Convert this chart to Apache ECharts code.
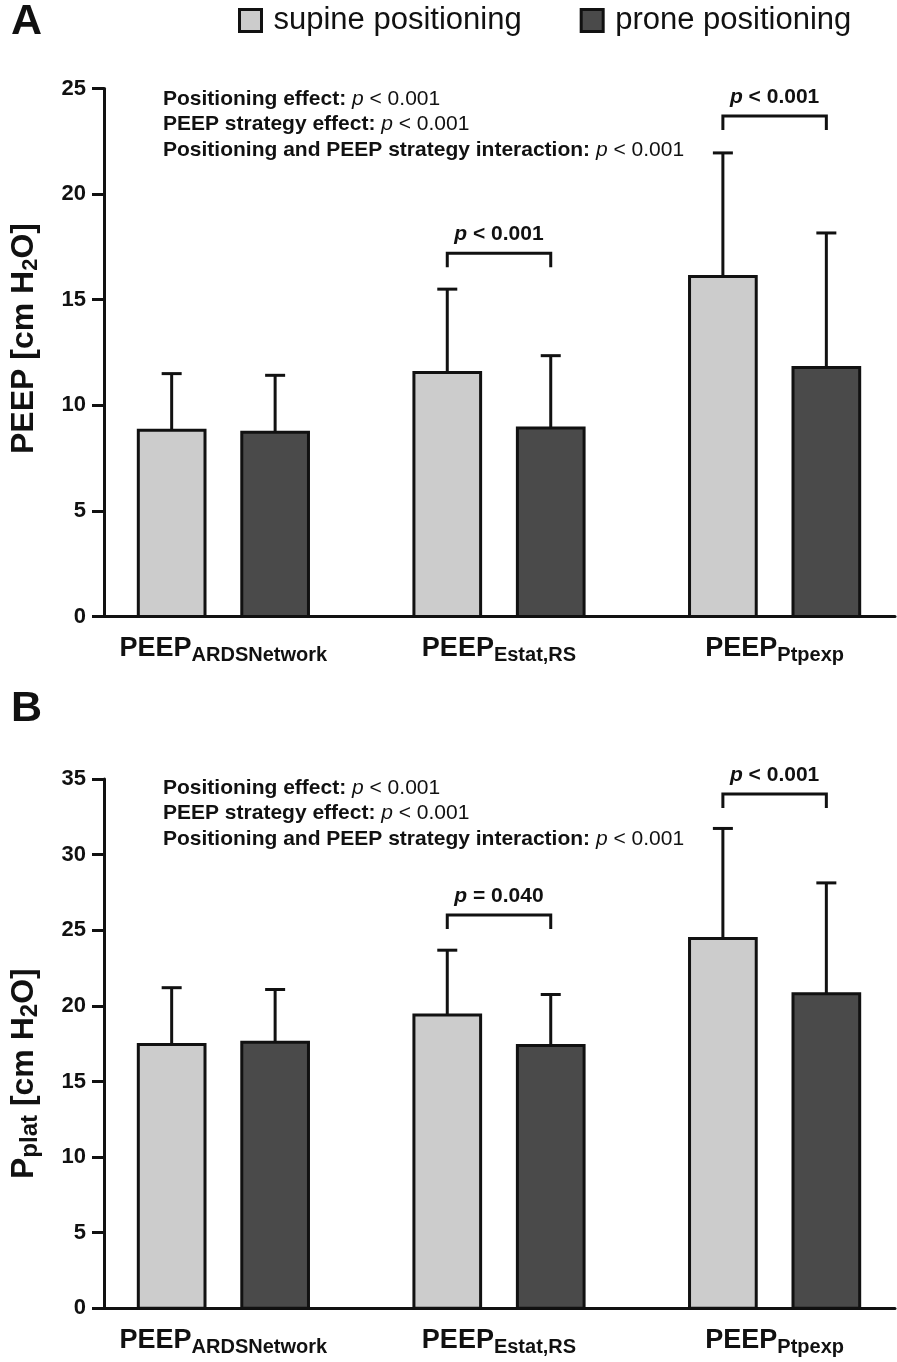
<!DOCTYPE html>
<html><head><meta charset="utf-8">
<script src="https://cdn.jsdelivr.net/npm/echarts@6/dist/echarts.min.js"></script>
<style>html,body{margin:0;padding:0;background:#fff}#c{width:897px;height:1362px}</style>
</head><body><div id="c"></div>
<script>
// ---------- data ----------
const categoryMain = ['PEEP', 'PEEP', 'PEEP'];
const categorySub = ['ARDSNetwork', 'Estat,RS', 'Ptpexp'];
const seriesNames = ['supine positioning', 'prone positioning'];

// Panel A: PEEP [cm H2O]
const peepSupineMean = [8.82, 11.55, 16.10];
const peepSupineSD   = [2.68, 3.95, 5.85];
const peepProneMean  = [8.72, 8.93, 11.79];
const peepProneSD    = [2.70, 3.42, 6.37];

// Panel B: Pplat [cm H2O]
const pplatSupineMean = [17.45, 19.40, 24.45];
const pplatSupineSD   = [3.75, 4.28, 7.28];
const pplatProneMean  = [17.60, 17.38, 20.80];
const pplatProneSD    = [3.48, 3.37, 7.33];

// pairwise comparison brackets
const bracketCatA   = [1, 2];
const bracketLevelA = [17.2, 23.7];
const bracketTextA  = ['< 0.001', '< 0.001'];
const bracketCatB   = [1, 2];
const bracketLevelB = [26.0, 34.0];
const bracketTextB  = ['= 0.040', '< 0.001'];

// overall statistics
const statLabels = ['Positioning effect:', 'PEEP strategy effect:', 'Positioning and PEEP strategy interaction:'];
const statValuesA = ['< 0.001', '< 0.001', '< 0.001'];
const statValuesB = ['< 0.001', '< 0.001', '< 0.001'];

// axis ticks
const yMaxA = 25, yMaxB = 35, yStep = 5;

// ---------- rendering ----------
const FONT = '"Liberation Sans", Arial, Helvetica, sans-serif';
const INK = '#111';
const BAR_W = 0.242;     // in category units
const OFFSET = 0.1877;   // half distance between pair centers
const X_MIN = -0.4332, X_MAX = 2.4368;

function zip(m, s) { return m.map((v, i) => [i, v, s[i]]); }

function barRender(offset) {
  return function (params, api) {
    const xc = api.value(0) + offset, m = api.value(1), sd = api.value(2);
    const w = api.size([BAR_W, 0])[0];
    const top = api.coord([xc, m]);
    const base = api.coord([xc, 0]);
    const et = api.coord([xc, m + sd]);
    return {
      type: 'group',
      children: [
        { type: 'line', shape: { x1: top[0], y1: top[1], x2: et[0], y2: et[1] }, style: { stroke: INK, lineWidth: 3 } },
        { type: 'line', shape: { x1: et[0] - 10, y1: et[1], x2: et[0] + 10, y2: et[1] }, style: { stroke: INK, lineWidth: 3 } },
        { type: 'rect', shape: { x: top[0] - w / 2, y: top[1], width: w, height: base[1] - top[1] },
          style: { fill: api.visual('color'), stroke: INK, lineWidth: 3 } }
      ]
    };
  };
}

function bracketRender(texts) {
  return function (params, api) {
    const c = api.value(0), lvl = api.value(1);
    const a = api.coord([c - OFFSET, lvl]);
    const b = api.coord([c + OFFSET, lvl]);
    return {
      type: 'group',
      children: [
        { type: 'polyline', shape: { points: [[a[0], a[1] + 14], a, b, [b[0], b[1] + 14]] },
          style: { stroke: INK, lineWidth: 3, fill: null } },
        { type: 'text', x: (a[0] + b[0]) / 2, y: a[1] - 19,
          style: { text: '{i|p}{n| ' + texts[params.dataIndex] + '}', align: 'center', verticalAlign: 'middle',
            rich: {
              i: { fontFamily: FONT, fontSize: 21, fontWeight: 'bold', fontStyle: 'italic', fill: INK },
              n: { fontFamily: FONT, fontSize: 21, fontWeight: 'bold', fill: INK }
            } } }
      ]
    };
  };
}

function catLabel(v) {
  const i = Math.round(v);
  return '{a|' + categoryMain[i] + '}{b|' + categorySub[i] + '}';
}

function statText(vals) {
  return statLabels.map((l, i) => '{b|' + l + '}{i| p}{n| ' + vals[i] + '}').join('\n');
}

const richStat = {
  b: { fontFamily: FONT, fontSize: 21, fontWeight: 'bold', color: INK, lineHeight: 25.5 },
  i: { fontFamily: FONT, fontSize: 21, fontWeight: 'normal', fontStyle: 'italic', color: INK, lineHeight: 25.5 },
  n: { fontFamily: FONT, fontSize: 21, fontWeight: 'normal', color: INK, lineHeight: 25.5 }
};

function xAxisDef(gridIndex) {
  return {
    type: 'value', gridIndex, min: X_MIN, max: X_MAX,
    axisLine: { show: true, onZero: true, lineStyle: { color: INK, width: 3 } },
    axisTick: { show: false },
    splitLine: { show: false },
    axisLabel: {
      customValues: [0, 1, 2], margin: 15, formatter: catLabel,
      rich: {
        a: { fontFamily: FONT, fontSize: 27, fontWeight: 'bold', color: INK, lineHeight: 34 },
        b: { fontFamily: FONT, fontSize: 20, fontWeight: 'bold', color: INK, lineHeight: 12, verticalAlign: 'bottom' }
      }
    }
  };
}

function yAxisDef(gridIndex, max, name, pad, subSize) {
  return {
    type: 'value', gridIndex, min: 0, max, interval: yStep,
    name, nameLocation: 'middle', nameRotate: 90, nameGap: 62,
    nameTextStyle: {
      padding: pad,
      rich: {
        a: { fontFamily: FONT, fontSize: 32, fontWeight: 'bold', color: INK, lineHeight: 36 },
        s: { fontFamily: FONT, fontSize: subSize, fontWeight: 'bold', color: INK, lineHeight: 16, verticalAlign: 'bottom' }
      }
    },
    axisLine: { show: true, onZero: false, lineStyle: { color: INK, width: 3 } },
    axisTick: { show: true, inside: false, length: 12, lineStyle: { color: INK, width: 3 } },
    splitLine: { show: false },
    axisLabel: { margin: 18, fontFamily: FONT, fontSize: 22, fontWeight: 'bold', color: INK }
  };
}

const supineColor = '#cccccc', proneColor = '#4a4a4a';

const option = {
  animation: false,
  backgroundColor: '#fff',
  title: [
    { text: 'A', left: 6, top: -4, textStyle: { fontFamily: FONT, fontSize: 43, fontWeight: 'bold', color: INK } },
    { text: 'B', left: 6, top: 683, textStyle: { fontFamily: FONT, fontSize: 43, fontWeight: 'bold', color: INK } },
    { text: statText(statValuesA), left: 158, top: 81, textStyle: { rich: richStat, lineHeight: 25.5 } },
    { text: statText(statValuesB), left: 158, top: 770, textStyle: { rich: richStat, lineHeight: 25.5 } }
  ],
  legend: {
    data: seriesNames, left: 238, top: 5, padding: 0, itemWidth: 22, itemHeight: 22, itemGap: 58, icon: 'rect',
    itemStyle: { borderColor: INK, borderWidth: 3 },
    textStyle: { fontFamily: FONT, fontSize: 31, color: INK, padding: [0, 0, 0, 7] }
  },
  grid: [
    { left: 100, right: 2, top: 88.5, height: 528 },
    { left: 100, right: 2, top: 779, height: 529.3 }
  ],
  xAxis: [xAxisDef(0), xAxisDef(1)],
  yAxis: [
    yAxisDef(0, yMaxA, '{a|PEEP [cm H}{s|2}{a|O]}', [0, 0, 0, 28], 22),
    yAxisDef(1, yMaxB, '{a|P}{s|plat}{a| [cm H}{s|2}{a|O]}', [0, 60, 0, 0], 24)
  ],
  series: [
    { type: 'custom', name: seriesNames[0], xAxisIndex: 0, yAxisIndex: 0, itemStyle: { color: supineColor },
      renderItem: barRender(-OFFSET), data: zip(peepSupineMean, peepSupineSD) },
    { type: 'custom', name: seriesNames[1], xAxisIndex: 0, yAxisIndex: 0, itemStyle: { color: proneColor },
      renderItem: barRender(OFFSET), data: zip(peepProneMean, peepProneSD) },
    { type: 'custom', name: seriesNames[0], xAxisIndex: 1, yAxisIndex: 1, itemStyle: { color: supineColor },
      renderItem: barRender(-OFFSET), data: zip(pplatSupineMean, pplatSupineSD) },
    { type: 'custom', name: seriesNames[1], xAxisIndex: 1, yAxisIndex: 1, itemStyle: { color: proneColor },
      renderItem: barRender(OFFSET), data: zip(pplatProneMean, pplatProneSD) },
    { type: 'custom', name: 'bracketsA', xAxisIndex: 0, yAxisIndex: 0, silent: true,
      renderItem: bracketRender(bracketTextA), data: bracketCatA.map((c, i) => [c, bracketLevelA[i]]) },
    { type: 'custom', name: 'bracketsB', xAxisIndex: 1, yAxisIndex: 1, silent: true,
      renderItem: bracketRender(bracketTextB), data: bracketCatB.map((c, i) => [c, bracketLevelB[i]]) }
  ]
};

const chart = echarts.init(document.getElementById('c'), null, { renderer: 'canvas' });
chart.setOption(option);
</script>
</body></html>
